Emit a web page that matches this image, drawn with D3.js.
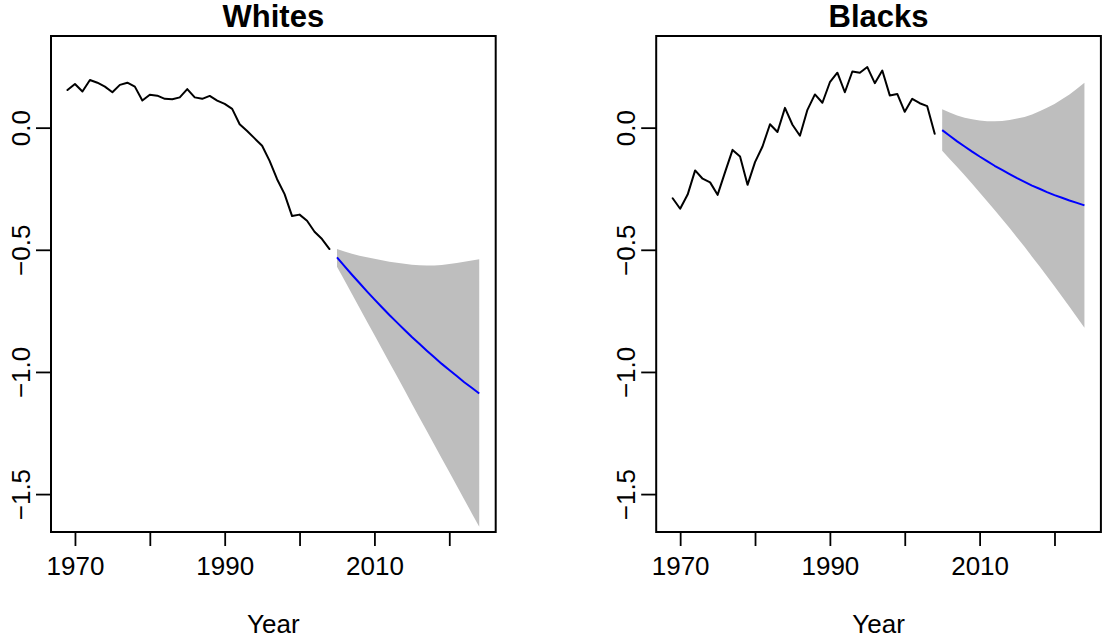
<!DOCTYPE html>
<html>
<head>
<meta charset="utf-8">
<script src="https://cdn.jsdelivr.net/npm/d3@7"></script>
<style>
  html, body { margin: 0; padding: 0; background: #ffffff; }
  svg text { font-family: "Liberation Sans", Arial, Helvetica, sans-serif; fill: #000; }
</style>
</head>
<body>
<svg id="chart" width="1102" height="640"></svg>
<script>
// Observed annual series, 1969–2004
const histYears = [1969,1970,1971,1972,1973,1974,1975,1976,1977,1978,1979,1980,
  1981,1982,1983,1984,1985,1986,1987,1988,1989,1990,1991,1992,1993,1994,1995,
  1996,1997,1998,1999,2000,2001,2002,2003,2004];

const whitesHist = [0.154,0.179,0.148,0.195,0.184,0.168,0.145,0.175,0.184,0.168,
  0.111,0.135,0.131,0.118,0.116,0.124,0.158,0.124,0.118,0.130,0.111,0.097,0.077,
  0.014,-0.014,-0.044,-0.074,-0.136,-0.211,-0.272,-0.362,-0.356,-0.381,-0.426,
  -0.456,-0.497];

const blacksHist = [-0.289,-0.332,-0.274,-0.175,-0.209,-0.224,-0.275,-0.182,-0.091,
  -0.118,-0.234,-0.141,-0.077,0.014,-0.018,0.081,0.012,-0.033,0.073,0.136,0.102,
  0.186,0.225,0.145,0.230,0.225,0.248,0.182,0.234,0.132,0.138,0.065,0.118,0.100,
  0.088,-0.025];

// Forecast horizon, 2005–2024: point forecast and interval bounds
const fcYears = [2005,2006,2007,2008,2009,2010,2011,2012,2013,2014,2015,2016,
  2017,2018,2019,2020,2021,2022,2023,2024];

const whitesMean  = [-0.531,-0.567,-0.602,-0.636,-0.670,-0.703,-0.735,-0.767,-0.797,
  -0.827,-0.857,-0.885,-0.913,-0.940,-0.967,-0.992,-1.017,-1.042,-1.065,-1.088];
const whitesUpper = [-0.497,-0.507,-0.516,-0.524,-0.530,-0.537,-0.543,-0.549,-0.553,
  -0.557,-0.561,-0.563,-0.564,-0.564,-0.562,-0.558,-0.554,-0.549,-0.544,-0.539];
const whitesLower = [-0.569,-0.625,-0.681,-0.737,-0.793,-0.849,-0.905,-0.961,-1.017,
  -1.073,-1.130,-1.186,-1.242,-1.298,-1.354,-1.410,-1.466,-1.522,-1.578,-1.634];

const blacksMean  = [-0.010,-0.033,-0.056,-0.077,-0.098,-0.118,-0.137,-0.156,-0.173,
  -0.190,-0.207,-0.222,-0.237,-0.250,-0.264,-0.276,-0.287,-0.298,-0.308,-0.318];
const blacksUpper = [0.075,0.062,0.050,0.041,0.034,0.029,0.026,0.026,0.027,0.031,
  0.037,0.044,0.054,0.067,0.081,0.097,0.116,0.136,0.159,0.184];
const blacksLower = [-0.095,-0.128,-0.161,-0.195,-0.230,-0.265,-0.301,-0.337,-0.374,
  -0.411,-0.450,-0.488,-0.528,-0.567,-0.608,-0.649,-0.691,-0.733,-0.776,-0.819];

// Axis settings
const xLimits = [1969, 2024];
const yLimits = [-1.58, 0.30];
const xTicks = [1970, 1980, 1990, 2000, 2010, 2020];
const xTickLabels = ["1970", "", "1990", "", "2010", ""];
const yTicks = [-1.5, -1.0, -0.5, 0.0];
const yTickLabels = ["\u22121.5", "\u22121.0", "\u22120.5", "0.0"];

const panelTitles = ["Whites", "Blacks"];
const xAxisTitle = "Year";

// Layout
const plotTop = 36, plotBottom = 532;
const panelLefts = [51, 656.2];
const plotWidth = 444.7;
const axisFont = 26, titleFont = 31;

const svg = d3.select("#chart");

// R-style 4% range expansion
function expand(lim) {
  const d = (lim[1] - lim[0]) * 0.04;
  return [lim[0] - d, lim[1] + d];
}

function drawPanel(i, hist, mean, upper, lower) {
  const x0 = panelLefts[i], x1 = x0 + plotWidth;
  const x = d3.scaleLinear().domain(expand(xLimits)).range([x0, x1]);
  const y = d3.scaleLinear().domain(expand(yLimits)).range([plotBottom, plotTop]);
  const g = svg.append("g");

  // prediction interval band
  const band = fcYears.map((yr, k) => ({ yr, lo: lower[k], hi: upper[k] }));
  g.append("path")
    .datum(band)
    .attr("fill", "#bebebe")
    .attr("stroke", "none")
    .attr("d", d3.area().x(d => x(d.yr)).y0(d => y(d.lo)).y1(d => y(d.hi)));

  // observed series
  g.append("path")
    .datum(histYears.map((yr, k) => [yr, hist[k]]))
    .attr("fill", "none")
    .attr("stroke", "#000")
    .attr("stroke-width", 2)
    .attr("stroke-linejoin", "round")
    .attr("stroke-linecap", "round")
    .attr("d", d3.line().x(d => x(d[0])).y(d => y(d[1])));

  // point forecast
  g.append("path")
    .datum(fcYears.map((yr, k) => [yr, mean[k]]))
    .attr("fill", "none")
    .attr("stroke", "#0000ff")
    .attr("stroke-width", 2)
    .attr("stroke-linejoin", "round")
    .attr("d", d3.line().x(d => x(d[0])).y(d => y(d[1])));

  // x axis
  const xa = g.append("g")
    .attr("transform", `translate(0,${plotBottom})`)
    .call(d3.axisBottom(x).tickValues(xTicks).tickSizeOuter(0).tickSize(14)
      .tickFormat((d, k) => xTickLabels[k]));
  xa.select(".domain").remove();
  xa.selectAll(".tick line").attr("stroke", "#000").attr("stroke-width", 1.8);
  xa.selectAll(".tick text")
    .attr("y", 43).attr("dy", null)
    .attr("font-size", axisFont)
    .style("font-family", "'Liberation Sans', Arial, sans-serif");

  // y axis
  const ya = g.append("g")
    .attr("transform", `translate(${x0},0)`)
    .call(d3.axisLeft(y).tickValues(yTicks).tickSizeOuter(0).tickSize(15)
      .tickFormat((d, k) => yTickLabels[k]));
  ya.select(".domain").remove();
  ya.selectAll(".tick line").attr("stroke", "#000").attr("stroke-width", 1.8);
  ya.selectAll(".tick text")
    .attr("x", 0).attr("y", -21).attr("dy", null)
    .attr("transform", "rotate(-90)")
    .attr("text-anchor", "middle")
    .attr("font-size", axisFont)
    .style("font-family", "'Liberation Sans', Arial, sans-serif");

  // plot frame
  g.append("rect")
    .attr("x", x0).attr("y", plotTop)
    .attr("width", plotWidth).attr("height", plotBottom - plotTop)
    .attr("fill", "none").attr("stroke", "#000").attr("stroke-width", 2);

  // titles
  g.append("text")
    .attr("x", (x0 + x1) / 2).attr("y", 27)
    .attr("text-anchor", "middle")
    .attr("font-size", titleFont).attr("font-weight", "bold")
    .text(panelTitles[i]);
  g.append("text")
    .attr("x", (x0 + x1) / 2).attr("y", 633)
    .attr("text-anchor", "middle")
    .attr("font-size", axisFont)
    .text(xAxisTitle);
}

drawPanel(0, whitesHist, whitesMean, whitesUpper, whitesLower);
drawPanel(1, blacksHist, blacksMean, blacksUpper, blacksLower);
</script>
</body>
</html>
